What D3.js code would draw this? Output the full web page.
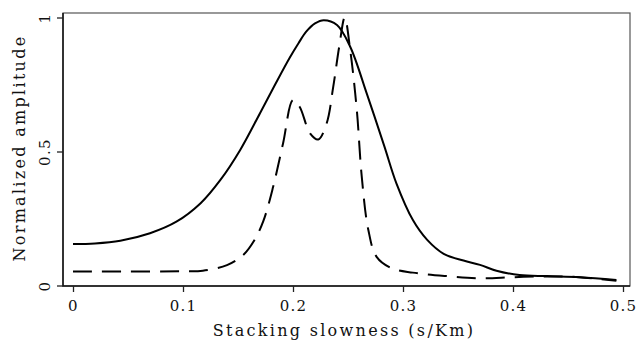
<!DOCTYPE html>
<html>
<head>
<meta charset="utf-8">
<script src="https://cdn.jsdelivr.net/npm/d3@7"></script>
<style>
  body { margin: 0; background: #fff; }
  svg text { font-family: "DejaVu Serif", serif; fill: #111; }
</style>
</head>
<body>
<div class="container"></div>
<script>
var solidX = [0, 0.02, 0.043, 0.07, 0.094, 0.116, 0.134, 0.152, 0.17, 0.184, 0.197, 0.205, 0.212, 0.22, 0.228, 0.24, 0.252, 0.267, 0.283, 0.294, 0.309, 0.322, 0.337, 0.355, 0.37, 0.385, 0.406, 0.431, 0.461, 0.494];
var solidY = [0.155, 0.157, 0.167, 0.195, 0.238, 0.307, 0.394, 0.506, 0.643, 0.752, 0.85, 0.904, 0.947, 0.978, 0.99, 0.972, 0.891, 0.717, 0.52, 0.381, 0.244, 0.17, 0.118, 0.093, 0.077, 0.055, 0.039, 0.035, 0.031, 0.021];

var dashX = [0, 0.05, 0.1, 0.118, 0.14, 0.155, 0.165, 0.173, 0.182, 0.191, 0.2, 0.206, 0.2155, 0.223, 0.2306, 0.2366, 0.242, 0.247, 0.252, 0.258, 0.2625, 0.2685, 0.276, 0.29, 0.309, 0.34, 0.37, 0.4, 0.43, 0.46, 0.494];
var dashY = [0.052, 0.052, 0.053, 0.055, 0.076, 0.115, 0.17, 0.24, 0.369, 0.531, 0.692, 0.667, 0.568, 0.545, 0.605, 0.742, 0.891, 1.0, 0.879, 0.655, 0.406, 0.207, 0.107, 0.064, 0.048, 0.035, 0.027, 0.031, 0.034, 0.031, 0.018];

var xTicks = [0, 0.1, 0.2, 0.3, 0.4, 0.5];
var yTicks = [0, 0.5, 1];
var xTitle = "Stacking slowness (s/Km)";
var yTitle = "Normalized amplitude";

var opts = {width: 638, height: 344, left: 63, right: 630, top: 13, bottom: 286};

var svg = d3.select(".container")
    .append("svg")
    .attr("width", opts.width)
    .attr("height", opts.height);

var x = d3.scaleLinear().domain([0, 0.5]).range([73, 623]);
var y = d3.scaleLinear().domain([0, 1]).range([285.5, 17.5]);

// frame: top/right lighter than the two axes
svg.append("rect")
    .attr("x", opts.left)
    .attr("y", opts.top)
    .attr("width", opts.right - opts.left)
    .attr("height", opts.bottom - opts.top)
    .attr("fill", "none")
    .attr("stroke", "#555")
    .attr("stroke-width", 1.2);
svg.append("path")
    .attr("d", "M" + opts.left + "," + opts.top + "V" + opts.bottom + "H" + opts.right)
    .attr("fill", "none")
    .attr("stroke", "#111")
    .attr("stroke-width", 1.5);

var xAxis = svg.append("g")
    .attr("transform", "translate(0," + opts.bottom + ")")
    .call(d3.axisBottom(x).tickValues(xTicks).tickSize(6).tickSizeOuter(0)
      .tickFormat(function(d){ return d === 0 ? "0" : d3.format(".1f")(d); }));
xAxis.select(".domain").remove();
xAxis.selectAll("line").attr("stroke", "#222").attr("stroke-width", 1.3);
xAxis.selectAll("text")
    .attr("y", 14)
    .attr("dy", "0.71em")
    .style("font-size", "15px")
    .style("letter-spacing", "1.3px")
    .style("font-family", "DejaVu Serif, serif");

var yAxis = svg.append("g")
    .attr("transform", "translate(" + opts.left + ",0)")
    .call(d3.axisLeft(y).tickValues(yTicks).tickSize(6).tickSizeOuter(0)
      .tickFormat(function(d){ return d3.format("")(d); }));
yAxis.select(".domain").remove();
yAxis.selectAll("line").attr("stroke", "#222").attr("stroke-width", 1.3);
yAxis.selectAll("text")
    .attr("transform", "rotate(-90)")
    .attr("x", 0)
    .attr("y", -18)
    .attr("dy", "0.35em")
    .attr("text-anchor", "middle")
    .style("font-size", "15px")
    .style("letter-spacing", "1.3px")
    .style("font-family", "DejaVu Serif, serif");

svg.append("text")
    .attr("x", 344)
    .attr("y", 336)
    .attr("text-anchor", "middle")
    .style("font-size", "16px")
    .style("letter-spacing", "2.3px")
    .text(xTitle);

svg.append("text")
    .attr("transform", "translate(19,148) rotate(-90)")
    .attr("text-anchor", "middle")
    .attr("dy", "0.35em")
    .style("font-size", "16px")
    .style("letter-spacing", "2.3px")
    .text(yTitle);

var line = d3.line()
    .x(function(d){ return x(d[0]); })
    .y(function(d){ return y(d[1]); })
    .curve(d3.curveCatmullRom.alpha(0.5));

svg.append("path")
    .datum(d3.zip(solidX, solidY))
    .attr("d", line)
    .attr("fill", "none")
    .attr("stroke", "#000")
    .attr("stroke-width", 2);

svg.append("path")
    .datum(d3.zip(dashX, dashY))
    .attr("d", line)
    .attr("fill", "none")
    .attr("stroke", "#000")
    .attr("stroke-width", 2)
    .attr("stroke-dasharray", "19,10");
</script>
</body>
</html>
